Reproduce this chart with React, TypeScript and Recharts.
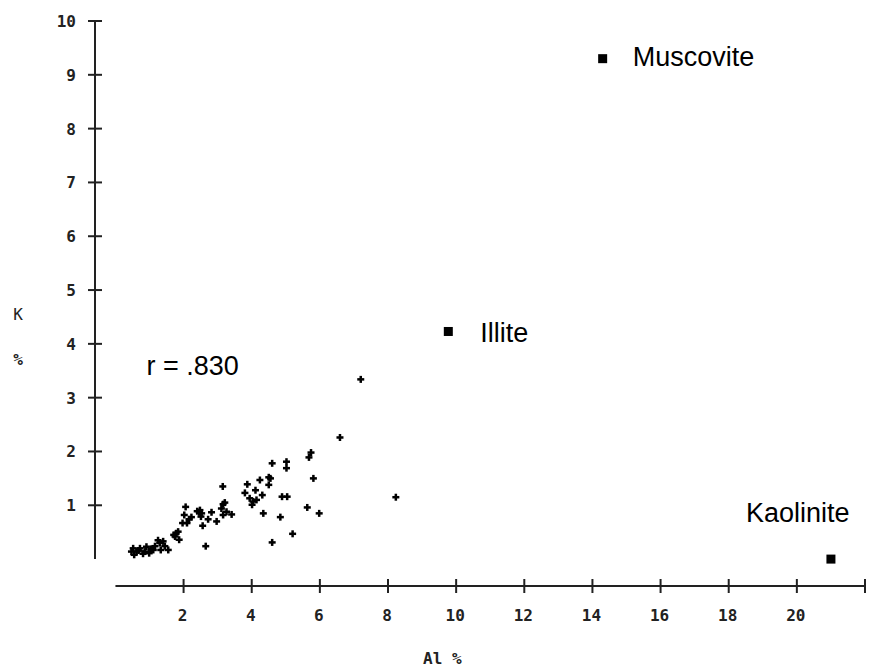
import {
  ReferenceDot,
  ReferenceLine,
  Scatter,
  ScatterChart,
  XAxis,
  YAxis,
} from "recharts";

// Al % and K % of each sample
const sampleAl = [
  0.47, 0.52, 0.55, 0.62, 0.68, 0.72, 0.81, 0.86, 0.91, 0.99, 1.05, 1.11, 1.16,
  1.25, 1.3, 1.33, 1.4, 1.45, 1.55,
  1.71, 1.75, 1.78, 1.84, 1.87, 1.97, 2.02, 2.06, 2.1, 2.16, 2.23,
  2.4, 2.46, 2.48, 2.51, 2.53, 2.56, 2.65, 2.72, 2.82, 2.97, 3.11, 3.15, 3.16,
  3.21, 3.26, 3.41, 3.16,
  3.8, 3.87, 3.94, 4.01, 4.04, 4.11, 4.14, 4.24, 4.31, 4.34, 4.5, 4.55, 4.5,
  4.6, 4.6,
  4.84, 4.89, 5.04, 5.02, 5.02, 5.2, 5.63, 5.68, 5.74, 5.81, 5.98,
  6.59, 7.2, 8.23,
];
const sampleK = [
  0.14, 0.2, 0.08, 0.14, 0.16, 0.2, 0.1, 0.14, 0.23, 0.11, 0.19, 0.17, 0.24,
  0.35, 0.3, 0.17, 0.33, 0.24, 0.17,
  0.45, 0.42, 0.48, 0.51, 0.36, 0.67, 0.82, 0.97, 0.67, 0.74, 0.78,
  0.89, 0.87, 0.91, 0.79, 0.85, 0.62, 0.24, 0.74, 0.87, 0.7, 0.94, 1.35, 1.02,
  1.05, 0.88, 0.83, 0.82,
  1.23, 1.39, 1.13, 1.01, 1.07, 1.28, 1.1, 1.47, 1.19, 0.85, 1.52, 1.5, 1.38,
  1.78, 0.31,
  0.78, 1.16, 1.16, 1.81, 1.69, 0.47, 0.96, 1.89, 1.98, 1.5, 0.85,
  2.26, 3.34, 1.15,
];

const mineralNames = ["Muscovite", "Illite", "Kaolinite"];
const mineralAl = [14.3, 9.77, 21.0];
const mineralK = [9.3, 4.23, 0];

const xTicks = [2, 4, 6, 8, 10, 12, 14, 16, 18, 20, 22];
const xTickLabels = ["2", "4", "6", "8", "10", "12", "14", "16", "18", "20", ""];
const yTicks = [1, 2, 3, 4, 5, 6, 7, 8, 9, 10];

const rLabel = "r = .830";
const rLabelAt = { al: 0.91, k: 3.42 };

const samples = sampleAl.map((al, i) => ({ al, k: sampleK[i] }));
const minerals = mineralNames.map((name, i) => ({
  name,
  al: mineralAl[i],
  k: mineralK[i],
}));

const W = 869;
const H = 667;
const AXIS = "#222";
const TICK_FONT = "'DejaVu Sans Mono', monospace";
const NOTE_FONT = "'Liberation Sans', Arial, sans-serif";

// where each mineral name sits relative to its square
const noteOffset: Record<string, { dx: number; dy: number }> = {
  Muscovite: { dx: 30, dy: 7 },
  Illite: { dx: 32, dy: 11 },
  Kaolinite: { dx: -85, dy: -37 },
};

function XTick(props: any) {
  const { x, y, payload, index } = props;
  return (
    <g>
      <line x1={x} x2={x} y1={y - 7} y2={y + 7} stroke={AXIS} strokeWidth={2} />
      <text
        x={x - 1}
        y={y + 35}
        textAnchor="middle"
        fontFamily={TICK_FONT}
        fontSize={16}
        fontWeight="bold"
        fill="#222"
      >
        {xTickLabels[index] ?? payload.value}
      </text>
    </g>
  );
}

function YTick(props: any) {
  const { x, y, payload } = props;
  return (
    <g>
      <line x1={x - 7} x2={x + 7} y1={y} y2={y} stroke={AXIS} strokeWidth={2} />
      <text
        x={x - 19}
        y={y + 6}
        textAnchor="end"
        fontFamily={TICK_FONT}
        fontSize={16}
        fontWeight="bold"
        fill="#222"
      >
        {payload.value}
      </text>
    </g>
  );
}

function PlusMark(props: any) {
  const { cx, cy } = props;
  return (
    <g fill="#000">
      <rect x={cx - 3.5} y={cy - 1.25} width={7} height={2.5} />
      <rect x={cx - 1.25} y={cy - 3.5} width={2.5} height={7} />
    </g>
  );
}

function MineralMark(props: any) {
  const { cx, cy, payload } = props;
  const off = noteOffset[payload.name] ?? { dx: 30, dy: 7 };
  return (
    <g>
      <rect x={cx - 4.5} y={cy - 4.5} width={9} height={9} fill="#000" />
      <text
        x={cx + off.dx}
        y={cy + off.dy}
        fontFamily={NOTE_FONT}
        fontSize={27}
        fill="#000"
      >
        {payload.name}
      </text>
    </g>
  );
}

export default function App() {
  return (
    <div style={{ position: "absolute", left: 0, top: 0, width: W, height: H, background: "#fff" }}>
      <ScatterChart width={W} height={H} margin={{ top: 21, right: 4, bottom: 0, left: 0 }}>
        <XAxis
          type="number"
          dataKey="al"
          domain={[-0.6, 22]}
          ticks={xTicks}
          allowDataOverflow
          height={81}
          axisLine={false}
          tickLine={false}
          tickSize={0}
          tickMargin={0}
          interval={0}
          tick={<XTick />}
          label={{
            content: ({ viewBox }: any) => (
              <text
                x={viewBox.x + 328}
                y={viewBox.y + 78}
                fontFamily={TICK_FONT}
                fontSize={16}
                fontWeight="bold"
                fill="#222"
              >
                Al %
              </text>
            ),
          }}
        />
        <YAxis
          type="number"
          dataKey="k"
          domain={[-0.5, 10]}
          ticks={yTicks}
          allowDataOverflow
          width={95}
          axisLine={false}
          tickLine={false}
          tickSize={0}
          tickMargin={0}
          interval={0}
          tick={<YTick />}
          label={{
            content: ({ viewBox }: any) => (
              <g fontFamily={TICK_FONT} fontSize={16} fill="#222" textAnchor="middle">
                <text x={viewBox.x + 18} y={viewBox.y + 299}>K</text>
                <text x={viewBox.x + 18} y={viewBox.y + 344} fontWeight="bold">%</text>
              </g>
            ),
          }}
        />
        <ReferenceLine
          segment={[{ x: 0, y: -0.5 }, { x: 22, y: -0.5 }]}
          stroke={AXIS}
          strokeWidth={2}
          ifOverflow="visible"
        />
        <ReferenceLine
          segment={[{ x: -0.6, y: 0 }, { x: -0.6, y: 10 }]}
          stroke={AXIS}
          strokeWidth={2}
          ifOverflow="visible"
        />
        <Scatter data={samples} shape={<PlusMark />} isAnimationActive={false} />
        <Scatter data={minerals} shape={<MineralMark />} isAnimationActive={false} />
        <ReferenceDot
          x={rLabelAt.al}
          y={rLabelAt.k}
          r={0}
          ifOverflow="visible"
          shape={(p: any) => (
            <text x={p.cx} y={p.cy} fontFamily={NOTE_FONT} fontSize={27} fill="#000">
              {rLabel}
            </text>
          )}
        />
      </ScatterChart>
    </div>
  );
}
